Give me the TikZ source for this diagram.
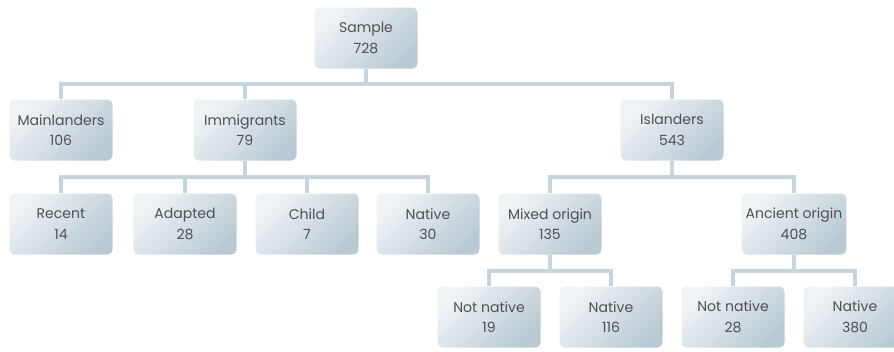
\documentclass[tikz,border=0pt]{standalone}
\usepackage{fontspec}
\setmainfont{Poppins}
\usepackage{xcolor}
\usetikzlibrary{positioning}

\definecolor{linkblue}{HTML}{C5D4DD}
\definecolor{boxlight}{HTML}{EFF3F5}
\definecolor{boxdark}{HTML}{BACAD4}
\definecolor{textgrey}{HTML}{505050}

\begin{document}
\begin{tikzpicture}[
    x=0.03cm, y=-0.03cm,
    box/.style={rounded corners=0.15cm, minimum width=3.09cm, minimum height=1.83cm,
        left color=boxlight, right color=boxdark, shading angle=45,
        align=center, text=textgrey, font=\fontsize{12}{17.5}\selectfont},
    link/.style={draw=linkblue, line width=3.4pt}
]
    \useasboundingbox (0,0) rectangle (894,351);
    \clip (0,0) rectangle (894,351);

    % Root
    \node[box] (sample) at (366,38) {Sample\\728};

    % Level 2
    \node[box] (mainl) at (61,130) {Mainlanders\\106};
    \node[box] (immig) at (245,130) {Immigrants\\79};
    \node[box] (island) at (672,130) {Islanders\\543};

    % Level 3
    \node[box] (recent) at (61,224) {Recent\\14};
    \node[box] (adapt) at (185,224) {Adapted\\28};
    \node[box] (child) at (307,224) {Child\\7};
    \node[box] (inative) at (428,224) {Native\\30};
    \node[box] (mixed) at (550,224) {Mixed origin\\135};
    \node[box] (ancient) at (794,224) {Ancient origin\\408};

    % Level 4
    \node[box] (mnot) at (489,317) {Not native\\19};
    \node[box] (mnative) at (611,317) {Native\\116};
    \node[box] (anot) at (733,317) {Not native\\28};
    \node[box] (anative) at (855,317) {Native\\380};

    % Links
    \draw[link] (sample.south) -- ++(0,15) -| (mainl.north);
    \draw[link] (sample.south) -- ++(0,15) -| (immig.north);
    \draw[link] (sample.south) -- ++(0,15) -| (island.north);

    \draw[link] (immig.south) -- ++(0,16) -| (recent.north);
    \draw[link] (immig.south) -- ++(0,16) -| (adapt.north);
    \draw[link] (immig.south) -- ++(0,16) -| (child.north);
    \draw[link] (immig.south) -- ++(0,16) -| (inative.north);

    \draw[link] (island.south) -- ++(0,16) -| (mixed.north);
    \draw[link] (island.south) -- ++(0,16) -| (ancient.north);

    \draw[link] (mixed.south) -- ++(0,16) -| (mnot.north);
    \draw[link] (mixed.south) -- ++(0,16) -| (mnative.north);
    \draw[link] (ancient.south) -- ++(0,16) -| (anot.north);
    \draw[link] (ancient.south) -- ++(0,16) -| (anative.north);
\end{tikzpicture}
\end{document}
